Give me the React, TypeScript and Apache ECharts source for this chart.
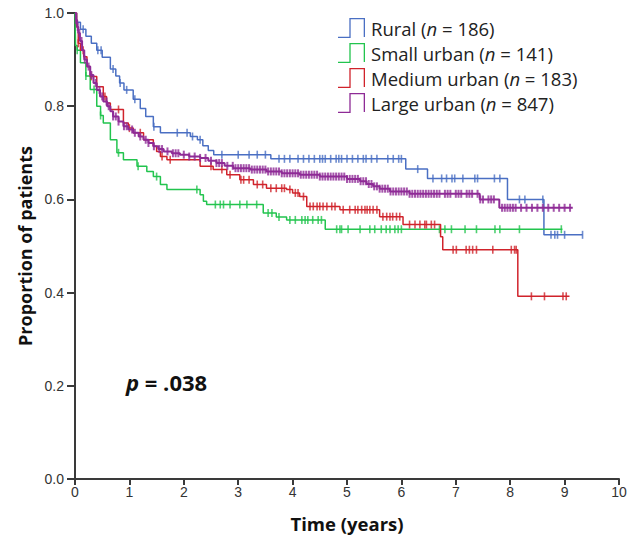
import React, { useEffect, useRef } from "react";
import * as echarts from "echarts";

// ---- Data ----
const groupNames = ["Rural", "Small urban", "Medium urban", "Large urban"];
const groupCounts = [186, 141, 183, 847];
const groupColors = ["#4a6fc3", "#22c44e", "#d0232b", "#8e2b96"];

const xTicks = [0, 1, 2, 3, 4, 5, 6, 7, 8, 9, 10];
const yTicks = [0, 0.2, 0.4, 0.6, 0.8, 1.0];

// Rural
const ruralTimes = [0, 0.03, 0.1, 0.2, 0.3, 0.4, 0.5, 0.65, 0.75, 0.82, 0.9, 1.07, 1.2, 1.3, 1.44, 1.57, 2.12, 2.25, 2.35, 2.45, 2.55, 3.6, 6.08, 6.48, 7.95, 8.62];
const ruralSurv = [1, 0.98, 0.965, 0.95, 0.935, 0.92, 0.905, 0.88, 0.865, 0.85, 0.835, 0.815, 0.795, 0.778, 0.756, 0.743, 0.735, 0.728, 0.715, 0.705, 0.696, 0.687, 0.665, 0.645, 0.6, 0.524];
const ruralEnd = 9.33;
const ruralCensor = [0.15, 0.42, 0.48, 0.7, 0.83, 0.95, 1.1, 1.45, 1.88, 2.06, 2.16, 2.3, 2.7, 3.0, 3.2, 3.35, 3.5, 3.75, 3.85, 3.95, 4.1, 4.2, 4.3, 4.4, 4.5, 4.55, 4.6, 4.7, 4.8, 4.85, 4.9, 5.0, 5.1, 5.2, 5.3, 5.35, 5.45, 5.55, 5.75, 5.85, 5.95, 6.0, 6.3, 6.58, 6.74, 6.83, 6.93, 6.98, 7.13, 7.35, 7.4, 7.71, 7.81, 8.17, 8.27, 8.6, 8.75, 8.82, 8.87, 9.0, 9.33];

// Small urban
const smallTimes = [0, 0.01, 0.04, 0.1, 0.2, 0.28, 0.4, 0.47, 0.52, 0.65, 0.77, 0.89, 1.14, 1.32, 1.44, 1.57, 1.69, 2.3, 2.36, 2.42, 3.46, 3.7, 3.89, 4.6];
const smallSurv = [1, 0.93, 0.92, 0.893, 0.865, 0.836, 0.8, 0.78, 0.764, 0.728, 0.7, 0.685, 0.671, 0.66, 0.649, 0.632, 0.621, 0.61, 0.596, 0.589, 0.571, 0.562, 0.556, 0.536];
const smallEnd = 8.96;
const smallCensor = [0.04, 0.2, 0.35, 0.47, 0.8, 1.16, 1.5, 2.24, 2.58, 2.67, 2.73, 2.85, 3.03, 3.16, 3.34, 3.55, 3.62, 3.75, 3.95, 4.05, 4.17, 4.23, 4.28, 4.37, 4.47, 4.53, 4.81, 4.87, 4.9, 5.02, 5.24, 5.42, 5.51, 5.63, 5.72, 5.79, 5.88, 5.94, 6.0, 6.7, 6.8, 6.92, 7.17, 7.38, 7.72, 7.81, 8.17, 8.94];

// Medium urban
const mediumTimes = [0, 0.03, 0.06, 0.1, 0.16, 0.22, 0.28, 0.4, 0.52, 0.58, 0.65, 0.89, 0.98, 1.07, 1.26, 1.44, 1.5, 1.57, 1.69, 2.3, 2.54, 2.79, 3.03, 3.28, 3.52, 3.89, 4.0, 4.13, 4.26, 4.87, 5.6, 6.03, 6.72, 6.76, 8.14];
const mediumSurv = [1, 0.97, 0.935, 0.92, 0.906, 0.885, 0.864, 0.842, 0.821, 0.807, 0.793, 0.764, 0.753, 0.743, 0.728, 0.714, 0.703, 0.692, 0.685, 0.671, 0.664, 0.653, 0.642, 0.632, 0.624, 0.621, 0.614, 0.606, 0.585, 0.578, 0.563, 0.546, 0.52, 0.492, 0.392];
const mediumEnd = 9.09;
const mediumCensor = [0.06, 0.15, 0.3, 0.55, 0.8, 1.0, 1.2, 1.6, 1.75, 2.5, 2.7, 2.85, 3.05, 3.1, 3.2, 3.35, 3.45, 3.6, 3.7, 3.8, 3.85, 3.95, 4.05, 4.1, 4.2, 4.32, 4.38, 4.45, 4.5, 4.56, 4.63, 4.72, 4.78, 4.93, 5.05, 5.15, 5.2, 5.27, 5.33, 5.37, 5.42, 5.48, 5.55, 5.66, 5.73, 5.79, 5.84, 5.91, 5.97, 6.15, 6.25, 6.34, 6.43, 6.46, 6.55, 6.61, 6.95, 7.01, 7.19, 7.25, 7.31, 7.38, 7.68, 8.02, 8.08, 8.11, 8.39, 8.63, 8.97, 9.03];

// Large urban
const largeTimes = [0, 0.02, 0.04, 0.06, 0.09, 0.13, 0.17, 0.22, 0.28, 0.34, 0.4, 0.46, 0.52, 0.59, 0.65, 0.7, 0.8, 0.89, 0.98, 1.07, 1.17, 1.26, 1.35, 1.44, 1.53, 1.63, 1.78, 1.93, 2.1, 2.3, 2.45, 2.6, 2.75, 2.91, 3.22, 3.52, 3.8, 4.13, 4.5, 5.0, 5.24, 5.36, 5.48, 5.6, 5.79, 6.15, 7.44, 7.8];
const largeSurv = [1, 0.985, 0.97, 0.957, 0.94, 0.92, 0.9, 0.885, 0.867, 0.85, 0.835, 0.821, 0.81, 0.8, 0.789, 0.778, 0.767, 0.757, 0.75, 0.743, 0.735, 0.728, 0.721, 0.714, 0.708, 0.703, 0.699, 0.696, 0.692, 0.689, 0.683, 0.678, 0.672, 0.667, 0.664, 0.66, 0.656, 0.653, 0.649, 0.644, 0.639, 0.633, 0.628, 0.623, 0.617, 0.612, 0.6, 0.582];
const largeEnd = 9.15;
const largeCensor = [0.02, 0.05, 0.08, 0.12, 0.18, 0.25, 0.3, 0.38, 0.45, 0.5, 0.58, 0.62, 0.7, 0.75, 0.8, 0.9, 0.95, 1.05, 1.1, 1.2, 1.3, 1.35, 1.45, 1.55, 1.6, 1.7, 1.8, 1.85, 1.9, 2.0, 2.1, 2.2, 2.3, 2.4, 2.5, 2.6, 2.65, 2.7, 2.8, 2.9, 2.95, 3.0, 3.05, 3.1, 3.15, 3.2, 3.25, 3.3, 3.35, 3.4, 3.45, 3.5, 3.55, 3.6, 3.65, 3.7, 3.75, 3.8, 3.85, 3.9, 3.95, 4.0, 4.05, 4.1, 4.15, 4.2, 4.25, 4.3, 4.35, 4.4, 4.45, 4.5, 4.55, 4.6, 4.65, 4.7, 4.75, 4.8, 4.85, 4.9, 4.95, 5.0, 5.05, 5.1, 5.15, 5.2, 5.25, 5.3, 5.35, 5.4, 5.45, 5.5, 5.55, 5.6, 5.65, 5.7, 5.75, 5.8, 5.85, 5.9, 5.95, 6.0, 6.05, 6.1, 6.15, 6.2, 6.25, 6.3, 6.35, 6.4, 6.45, 6.5, 6.55, 6.6, 6.65, 6.7, 6.8, 6.85, 6.9, 7.0, 7.05, 7.1, 7.2, 7.25, 7.3, 7.4, 7.45, 7.5, 7.6, 7.65, 7.7, 7.85, 7.9, 7.95, 8.0, 8.05, 8.1, 8.2, 8.3, 8.4, 8.5, 8.6, 8.7, 8.8, 8.9, 9.0, 9.1];

const pValueText = "= .038";

// ---- helpers ----
const stepData = (times: number[], surv: number[], end: number) => {
  const d = times.map((t, i) => [t, surv[i]]);
  d.push([end, surv[surv.length - 1]]);
  return d;
};
const survAt = (times: number[], surv: number[], t: number) => {
  let v = surv[0];
  for (let i = 0; i < times.length; i++) {
    if (times[i] <= t) v = surv[i];
  }
  return v;
};
const censorData = (times: number[], surv: number[], censor: number[]) =>
  censor.map((t) => [t, survAt(times, surv, t)]);

const groups = [
  { times: ruralTimes, surv: ruralSurv, end: ruralEnd, censor: ruralCensor },
  { times: smallTimes, surv: smallSurv, end: smallEnd, censor: smallCensor },
  { times: mediumTimes, surv: mediumSurv, end: mediumEnd, censor: mediumCensor },
  { times: largeTimes, surv: largeSurv, end: largeEnd, censor: largeCensor },
];

const legendIcon =
  "path://M0,18.7L12.65,18.7L12.65,20L0,20Z M11.35,0L12.65,0L12.65,20L11.35,20Z M11.35,0L27,0L27,1.3L11.35,1.3Z M25.7,0L27,0L27,19L25.7,19Z";

const FONT = "'Open Sans', 'Noto Sans', sans-serif";
const TICK_FONT = "'Liberation Sans', Arial, sans-serif";

export default function App() {
  const ref = useRef<HTMLDivElement>(null);

  useEffect(() => {
    if (!ref.current) return;
    const chart = echarts.init(ref.current, undefined, { renderer: "svg" });

    const lineSeries: any[] = groups.map((g, i) => ({
      name: groupNames[i],
      type: "line",
      step: "end",
      showSymbol: false,
      symbol: "none",
      color: groupColors[i],
      lineStyle: { color: groupColors[i], width: i === 3 ? 2 : 1.5 },
      data: stepData(g.times, g.surv, g.end),
      z: 2 + i,
    }));
    const censorSeries: any[] = groups.map((g, i) => ({
      name: groupNames[i] + " censored",
      type: "scatter",
      symbol: "rect",
      symbolSize: i === 3 ? [2, 8] : [1.6, 8],
      itemStyle: { color: groupColors[i] },
      data: censorData(g.times, g.surv, g.censor),
      z: 2 + i,
    }));

    chart.setOption({
      animation: false,
      backgroundColor: "#ffffff",
      grid: { left: 75, right: 14, top: 13, bottom: 59 },
      legend: {
        data: groupNames,
        orient: "vertical",
        left: 333,
        top: 13,
        itemWidth: 27,
        itemHeight: 20,
        itemGap: 5,
        icon: legendIcon,
        itemStyle: { borderWidth: 0 },
        selectedMode: false,
        formatter: (name: string) => {
          const idx = groupNames.indexOf(name);
          return `${name} ({i|n} = ${groupCounts[idx]})`;
        },
        textStyle: {
          fontFamily: FONT,
          fontSize: 18.5,
          color: "#222",
          padding: [0, 0, 0, 1],
          rich: {
            i: { fontFamily: FONT, fontSize: 18.5, fontStyle: "italic", color: "#222" },
          },
        },
      },
      xAxis: {
        type: "value",
        min: xTicks[0],
        max: xTicks[xTicks.length - 1],
        interval: 1,
        name: "Time (years)",
        nameLocation: "middle",
        nameGap: 35,
        nameTextStyle: { fontFamily: FONT, fontWeight: "bold", fontSize: 18.5, color: "#111" },
        axisLine: { lineStyle: { color: "#3a3a3a", width: 2 } },
        axisTick: { show: true, length: 6, lineStyle: { color: "#3a3a3a", width: 2 } },
        axisLabel: { fontFamily: TICK_FONT, fontSize: 14, color: "#333", margin: 6 },
        splitLine: { show: false },
      },
      yAxis: {
        type: "value",
        min: yTicks[0],
        max: yTicks[yTicks.length - 1],
        interval: 0.2,
        name: "Proportion of patients",
        nameLocation: "middle",
        nameGap: 40,
        nameTextStyle: { fontFamily: FONT, fontWeight: "bold", fontSize: 18, color: "#111" },
        axisLine: { show: true, lineStyle: { color: "#3a3a3a", width: 2 } },
        axisTick: { show: true, length: 8, lineStyle: { color: "#3a3a3a", width: 2 } },
        axisLabel: {
          fontFamily: TICK_FONT,
          fontSize: 14,
          color: "#333",
          margin: 11,
          formatter: (v: number) => v.toFixed(1),
        },
        splitLine: { show: false },
      },
      graphic: [
        {
          type: "text",
          left: 126,
          top: 371,
          style: {
            text: "{p|p} " + pValueText,
            fontFamily: FONT,
            fontWeight: "bold",
            fontSize: 22,
            fill: "#111",
            rich: {
              p: { fontFamily: FONT, fontWeight: "bold", fontStyle: "italic", fontSize: 22, color: "#111" },
            },
          },
        },
      ],
      series: [...lineSeries, ...censorSeries],
    });

    return () => chart.dispose();
  }, []);

  return (
    <div
      ref={ref}
      style={{ position: "fixed", left: 0, top: 0, width: 633, height: 538, background: "#fff" }}
    />
  );
}
